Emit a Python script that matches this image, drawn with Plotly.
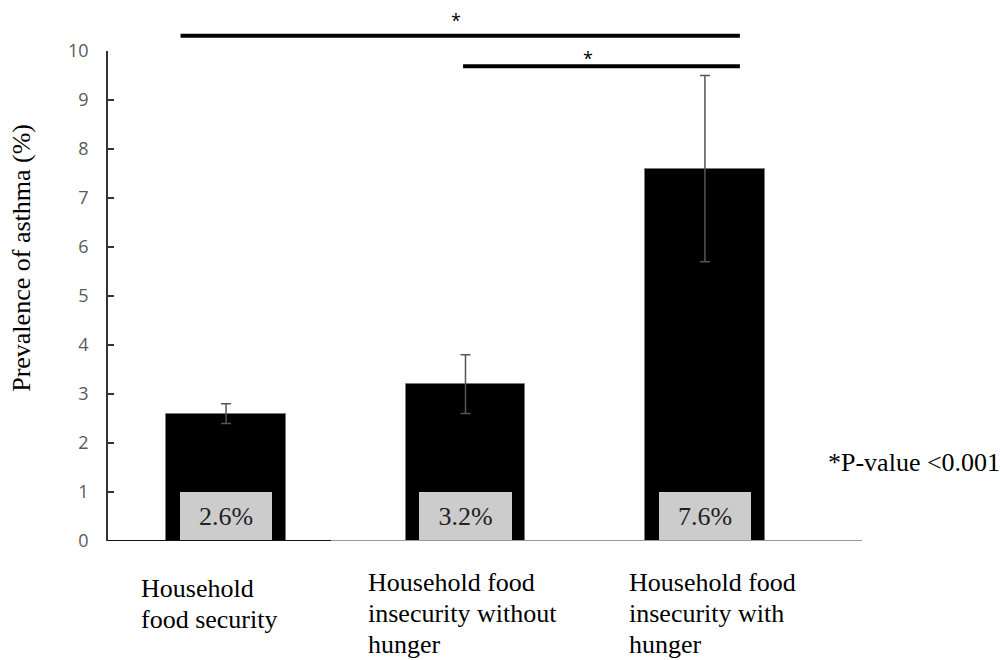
import plotly.graph_objects as go

# ---- data ----
categories = ["Household food security",
              "Household food insecurity without hunger",
              "Household food insecurity with hunger"]
label_lines = [["Household", "food security"],
               ["Household food", "insecurity without", "hunger"],
               ["Household food", "insecurity with", "hunger"]]
prevalence = [2.6, 3.2, 7.6]
error = [0.2, 0.6, 1.9]
value_labels = ["2.6%", "3.2%", "7.6%"]
y_ticks = [0, 1, 2, 3, 4, 5, 6, 7, 8, 9, 10]
# significance comparisons: (from category index, to category index)
comparisons = [(0, 2), (1, 2)]
p_note = "*P-value <0.001"

# ---- layout geometry ----
W, H = 1000, 660
L, R, T, B = 108, 138, 51, 119
XR = [-0.493, 2.656]
YR = [0, 10]
SERIF = "Liberation Serif, Times New Roman, serif"
SANS = "Open Sans, Noto Sans, sans-serif"

xs = list(range(len(categories)))

fig = go.Figure()
fig.add_trace(go.Bar(
    x=xs, y=prevalence, width=0.5,
    marker=dict(color="black", line=dict(color="#7a7a7a", width=1)),
    error_y=dict(type="data", array=error, symmetric=True,
                 color="#555555", thickness=1.5, width=5),
    hoverinfo="skip", showlegend=False,
))
# grey label boxes with percentages
fig.add_trace(go.Bar(
    x=xs, y=[1.0] * len(xs), width=0.385,
    marker=dict(color="#cccccc", line=dict(width=0)),
    text=value_labels, textposition="inside", insidetextanchor="middle",
    textangle=0, textfont=dict(family=SERIF, size=26, color="#222222"),
    hoverinfo="skip", showlegend=False,
))

shapes = []
# baseline segments (x axis line look)
shapes.append(dict(type="line", xref="x", yref="y", x0=XR[0], x1=0.44, y0=0, y1=0,
                   line=dict(color="#111111", width=2)))
shapes.append(dict(type="line", xref="x", yref="y", x0=0.44, x1=XR[1], y0=0, y1=0,
                   line=dict(color="#9a9a9a", width=2)))

# significance brackets
def ypaper(v):
    return (v - YR[0]) / (YR[1] - YR[0])

sig_levels = [10.31, 9.69]
sig_x = [(-0.19, 2.146), (0.99, 2.146)]
star_x = [0.96, 1.51]
star_shift = [2, -6]
annotations = []
for (a, b), lvl, (x0, x1), sx, ss in zip(comparisons, sig_levels, sig_x, star_x, star_shift):
    shapes.append(dict(type="line", xref="x", yref="paper", x0=x0, x1=x1,
                       y0=ypaper(lvl), y1=ypaper(lvl),
                       line=dict(color="black", width=4)))
    annotations.append(dict(text="*", xref="x", yref="paper", x=sx, y=ypaper(lvl),
                            yanchor="bottom", showarrow=False, yshift=ss,
                            font=dict(family=SANS, size=18, color="black")))

# category labels (left aligned, multi-line)
label_x = [-0.363, 0.585, 1.674]
label_top = [-31, -25, -25]
line_gap = 31
for lines, lx, top in zip(label_lines, label_x, label_top):
    for i, ln in enumerate(lines):
        annotations.append(dict(text=ln, xref="x", yref="paper", x=lx, y=0,
                                xanchor="left", yanchor="top", showarrow=False,
                                yshift=top - i * line_gap,
                                font=dict(family=SERIF, size=26, color="black")))

# y-axis title
annotations.append(dict(text="Prevalence of asthma (%)", xref="paper", yref="paper",
                        x=-0.114, y=0.578, textangle=-90, showarrow=False,
                        xanchor="center", yanchor="middle",
                        font=dict(family=SERIF, size=26, color="black")))
# p-value note
annotations.append(dict(text=p_note, xref="paper", yref="paper",
                        x=(826 - L) / (W - L - R), y=ypaper(1.6),
                        xanchor="left", yanchor="middle", showarrow=False,
                        font=dict(family=SERIF, size=26, color="black")))

fig.update_layout(
    width=W, height=H,
    margin=dict(l=L, r=R, t=T, b=B, autoexpand=False),
    paper_bgcolor="white", plot_bgcolor="white",
    barmode="overlay", bargap=0,
    shapes=shapes, annotations=annotations,
    xaxis=dict(range=XR, showticklabels=False, ticks="", showgrid=False,
               zeroline=False, showline=False, fixedrange=True),
    yaxis=dict(range=YR, tickvals=y_ticks, ticks="inside", ticklen=6,
               tickcolor="#333333", tickwidth=1.5,
               showline=True, linecolor="#333333", linewidth=1.5,
               showgrid=False, zeroline=False,
               tickfont=dict(family=SANS, size=18, color="#5a5a5a"),
               ticklabelstandoff=14, fixedrange=True),
)

fig.write_html("out.html")
